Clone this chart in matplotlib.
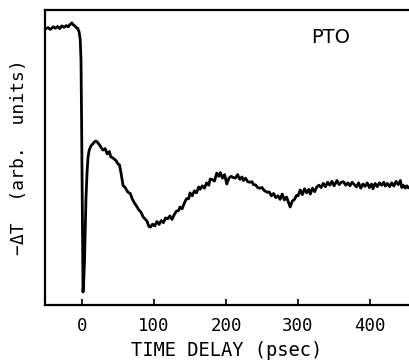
import matplotlib
matplotlib.use("Agg")
import matplotlib.pyplot as plt

# Time delay (psec) and normalized -dT signal (arb. units)
delay = [-51, -47, -44, -40, -37, -34, -31, -28, -25, -22,
         -19, -17, -14, -12, -10, -8, -6, -4, -2.5, -1.4,
         -0.5, 0.5, 1.4, 2.4, 3.5, 4.5, 5.5, 7, 8.3, 10,
         12.5, 15, 17, 19.4, 22, 25, 27, 29, 32, 35,
         38, 40, 42, 45, 47, 50, 52, 54, 57, 60,
         63, 65, 67, 70, 73, 76, 79, 82, 85, 88,
         90, 93, 95, 98, 101, 104, 107, 110, 113, 116,
         119, 122, 125, 128, 131, 134, 136, 139, 142, 145,
         148, 150, 153, 156, 159, 162, 164, 167, 170, 173,
         176, 178, 181, 184, 187, 190, 192, 195, 198, 201,
         204, 207, 210, 213, 216, 219, 222, 224, 227, 230,
         233, 236, 238, 241, 244, 247, 250, 253, 257, 260,
         263, 266, 269, 272, 275, 278, 281, 284, 287, 289,
         292, 295, 298, 300, 303, 306, 309, 312, 315, 317,
         320, 323, 326, 329, 332, 335, 338, 341, 344, 347,
         350, 354, 357, 360, 363, 366, 369, 372, 375, 378,
         381, 384, 387, 390, 393, 396, 399, 402, 404, 407,
         410, 413, 416, 419, 421, 424, 427, 430, 433, 436,
         439, 442, 444, 446, 449, 451, 453]
signal = [0.936, 0.940, 0.934, 0.943, 0.938, 0.944, 0.937, 0.946, 0.941, 0.947,
          0.943, 0.950, 0.956, 0.949, 0.946, 0.940, 0.938, 0.925, 0.900, 0.830,
          0.600, 0.300, 0.044, 0.080, 0.150, 0.250, 0.360, 0.450, 0.500, 0.525,
          0.540, 0.546, 0.552, 0.556, 0.550, 0.540, 0.532, 0.525, 0.530, 0.512,
          0.520, 0.502, 0.500, 0.494, 0.490, 0.478, 0.475, 0.450, 0.405, 0.398,
          0.385, 0.380, 0.378, 0.358, 0.345, 0.334, 0.322, 0.314, 0.298, 0.290,
          0.285, 0.266, 0.264, 0.274, 0.268, 0.283, 0.273, 0.286, 0.279, 0.295,
          0.292, 0.302, 0.290, 0.306, 0.318, 0.320, 0.332, 0.326, 0.345, 0.360,
          0.360, 0.380, 0.370, 0.387, 0.380, 0.400, 0.392, 0.404, 0.396, 0.414,
          0.406, 0.427, 0.425, 0.420, 0.447, 0.436, 0.449, 0.430, 0.442, 0.410,
          0.430, 0.436, 0.432, 0.430, 0.442, 0.426, 0.434, 0.422, 0.430, 0.418,
          0.416, 0.418, 0.408, 0.407, 0.398, 0.396, 0.398, 0.388, 0.382, 0.383,
          0.370, 0.378, 0.364, 0.370, 0.358, 0.376, 0.356, 0.366, 0.346, 0.332,
          0.352, 0.358, 0.372, 0.370, 0.390, 0.374, 0.394, 0.380, 0.392, 0.376,
          0.396, 0.384, 0.400, 0.406, 0.398, 0.412, 0.401, 0.416, 0.406, 0.419,
          0.404, 0.422, 0.408, 0.416, 0.418, 0.406, 0.414, 0.404, 0.416, 0.408,
          0.400, 0.414, 0.396, 0.410, 0.402, 0.414, 0.398, 0.410, 0.394, 0.412,
          0.401, 0.414, 0.406, 0.416, 0.403, 0.412, 0.401, 0.414, 0.403, 0.419,
          0.408, 0.422, 0.398, 0.406, 0.396, 0.404, 0.398]

xticks = [0, 100, 200, 300, 400]

fig = plt.figure(figsize=(4.09, 3.62), dpi=100)
ax = fig.add_axes([0.110, 0.1575, 0.89, 0.815])
ax.plot(delay, signal, color="black", lw=2.0, solid_joinstyle="round")
ax.set_xlim(-51.4, 454)
ax.set_ylim(0, 1)
ax.spines["right"].set_visible(False)
for s in ["left", "top", "bottom"]:
    ax.spines[s].set_linewidth(1.6)
ax.set_xticks(xticks)
ax.set_xticklabels([str(t) for t in xticks], family="DejaVu Sans Mono", fontsize=12.5)
ax.tick_params(axis="x", direction="in", length=4, width=1.2, pad=9)
ax.set_yticks([])
ax.set_xlabel("TIME DELAY (psec)", family="DejaVu Sans Mono", fontsize=13.5, labelpad=4)
ax.set_ylabel("\u2212\u0394T  (arb.  units)", family="DejaVu Sans Mono", fontsize=13, labelpad=12)
ax.text(0.786, 0.905, "PTO", transform=ax.transAxes, fontsize=14, ha="center", va="center",
        family="DejaVu Sans")
fig.savefig("out.png", dpi=100)
